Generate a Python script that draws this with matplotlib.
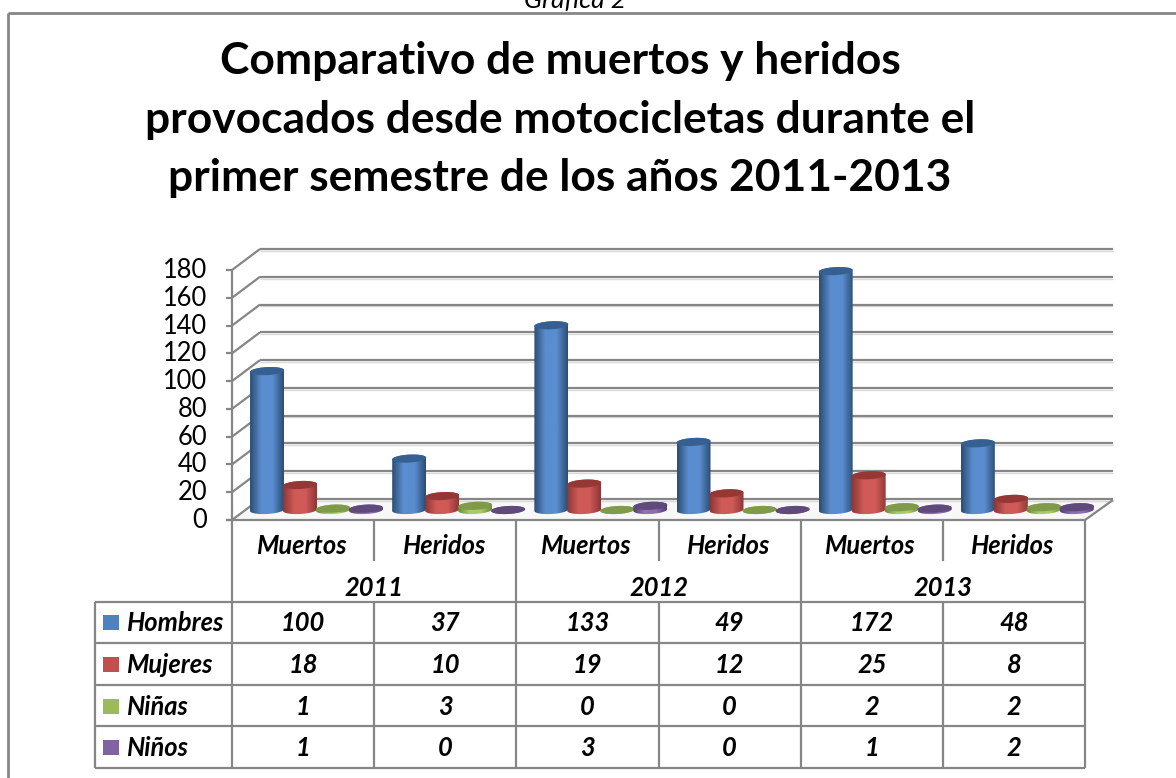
import numpy as np
import matplotlib
matplotlib.use("Agg")
import matplotlib.pyplot as plt
from matplotlib.patches import Polygon, Rectangle
from matplotlib.transforms import Affine2D
from matplotlib.colors import LinearSegmentedColormap

years = ["2011", "2012", "2013"]
categories = ["Muertos", "Heridos"] * 3
series_names = ["Hombres", "Mujeres", "Niñas", "Niños"]
hombres = [100, 37, 133, 49, 172, 48]
mujeres = [18, 10, 19, 12, 25, 8]
ninas = [1, 3, 0, 0, 2, 2]
ninos = [1, 0, 3, 0, 1, 2]
yticks = list(range(0, 181, 20))
title_lines = ["Comparativo de muertos y heridos",
               "provocados desde motocicletas durante el",
               "primer semestre de los años 2011-2013"]
all_series = [hombres, mujeres, ninas, ninos]
legend_cols = ["#4F81BD", "#C0504D", "#9BBB59", "#8064A2"]
side_edge = ["#2C4D75", "#8C3836", "#6F8A3A", "#553F73"]
side_mid = ["#5A8DCF", "#D05A57", "#AACC66", "#8E70B4"]
top_cols = ["#376092", "#953735", "#7F9A48", "#5F4A7B"]

FONT = "Lato"
GREY = "#868686"
W, H = 1176, 778
fig = plt.figure(figsize=(W / 100, H / 100), dpi=100, facecolor="white")


def pixel_axes(z):
    a = fig.add_axes([0, 0, 1, 1], zorder=z)
    a.set_xlim(0, W); a.set_ylim(H, 0); a.axis("off"); a.patch.set_alpha(0)
    return a


bg = pixel_axes(1)   # walls and floor
ov = pixel_axes(3)   # frame, table and text

# main axes: bar plane, x = categories, y = values
X0, X1, Y0, Y180 = 232.0, 1085.0, 510.0, 260.0
ax = fig.add_axes([X0 / W, 1 - Y0 / H, (X1 - X0) / W, (Y0 - Y180) / H], zorder=2)
ax.set_xlim(0, 6)
ax.set_ylim(0, 180)
ax.axis("off")
pxx = 6.0 / (X1 - X0)
pxy = 180.0 / (Y0 - Y180)


def line(a, xs, ys, c=GREY, lw=1.6, z=5):
    a.plot(xs, ys, color=c, lw=lw, solid_capstyle="butt", zorder=z, clip_on=False)


# walls: grid lines reached through the value scale with a depth offset
wall = ax.transData + Affine2D().translate(28, 11)
front = ax.transData + Affine2D().translate(0, -10)
bg.add_patch(Polygon([[232, 520], [260, 499], [1113, 499], [1085, 520]], fc="#F8F8F8", ec="none", zorder=0.5))
for t in yticks:
    xb0, yb = wall.transform((0, t))
    xb1, _ = wall.transform((6, t))
    xf, yf = front.transform((0, t))
    yb, yf = H - yb, H - yf
    line(bg, [xb0, xb1], [yb + 1.8, yb + 1.8], c="#DADADA", lw=1.0, z=1)
    line(bg, [xb0, xb1], [yb, yb], z=2)
    line(bg, [xf, xb0], [yf, yb], z=2)
    line(bg, [xf - 6, xf], [yf, yf], z=2)
    ov.text(207, yf + 0.5, str(t), ha="right", va="center", family=FONT, fontsize=18.4, color="black")

# floor and axis edges
line(bg, [232, 232], [270, 520], z=2)
line(bg, [1085, 1113], [520, 500], z=2)

# cylinders
HW, HH, TILT = 17.0, 4.0, np.radians(3.0)
OFFS = [35.0, 68.0, 101.0, 134.0]
th = np.linspace(0, 2 * np.pi, 73)
for s, vals in enumerate(all_series):
    cmap = LinearSegmentedColormap.from_list("c", [side_edge[s], side_mid[s], side_mid[s], side_edge[s]])
    grad = np.linspace(0, 1, 64).reshape(1, -1)
    for i, v in enumerate(vals):
        cx = i + OFFS[s] * pxx
        ex = HW * np.cos(th)
        ey = HH * np.sin(th) + ex * np.tan(TILT)
        top = np.c_[cx + ex * pxx, v + ey * pxy]
        lower = th >= np.pi
        lo = np.c_[cx + ex[lower] * pxx, ey[lower] * pxy]
        up = np.c_[cx + ex[~lower] * pxx, v + ey[~lower] * pxy]
        body = Polygon(np.r_[lo, up], closed=True, fc="none", ec="none", transform=ax.transData, clip_on=False)
        ax.add_patch(body)
        im = ax.imshow(grad, cmap=cmap, aspect="auto", zorder=3 + i + s * 0.1,
                       extent=[cx - HW * pxx, cx + HW * pxx, -HH * 2 * pxy, v + HH * 2 * pxy])
        im.set_clip_box(fig.bbox)
        im.set_clip_path(body)
        ax.add_patch(Polygon(top, closed=True, fc=top_cols[s], ec="none", zorder=3.05 + i + s * 0.1, clip_on=False))
ax.set_xlim(0, 6)
ax.set_ylim(0, 180)

# table
rows = [602, 643, 685, 726, 768]
cols = [X0 + (X1 - X0) * k / 6 for k in range(7)]
for r in rows:
    line(ov, [94.5, X1], [r, r])
line(ov, [X0 - 6, X1], [520, 520])
line(ov, [94.5, 94.5], [602, 768])
for k, c in enumerate(cols):
    if k % 2 == 0:
        line(ov, [c, c], [520, 768])
    else:
        line(ov, [c, c], [520, 561])
        line(ov, [c, c], [602, 768])

TXT = dict(family=FONT, style="italic", weight="bold", color="black", va="center", fontsize=18.4)
for k, name in enumerate(categories):
    ov.text((cols[k] + cols[k + 1]) / 2 - 2, 546, name, ha="center", **TXT)
for k, y in enumerate(years):
    ov.text(cols[2 * k + 1], 588, y, ha="center", **TXT)
centers = [623, 665, 707, 748]
for s, name in enumerate(series_names):
    ov.add_patch(Rectangle((103, centers[s] - 8.5), 16, 15, fc=legend_cols[s], ec="none", zorder=6))
    ov.text(126, centers[s], name, ha="left", **TXT)
    for k, v in enumerate(all_series[s]):
        ov.text((cols[k] + cols[k + 1]) / 2, centers[s], str(v), ha="center", **TXT)

# outer frame
line(ov, [7.5, 7.5], [12.5, 778], lw=2)
line(ov, [7.5, 1176], [12.5, 12.5], lw=2)

# titles
ov.text(575, 0, "Gráfica 2", ha="center", va="center", family=FONT, style="italic", fontsize=19)
for k, t in enumerate(title_lines):
    ov.text(560, 61 + 58.5 * k, t, ha="center", va="center", family=FONT, weight="bold", fontsize=31.9, color="black")

fig.savefig("out.png", dpi=100)
